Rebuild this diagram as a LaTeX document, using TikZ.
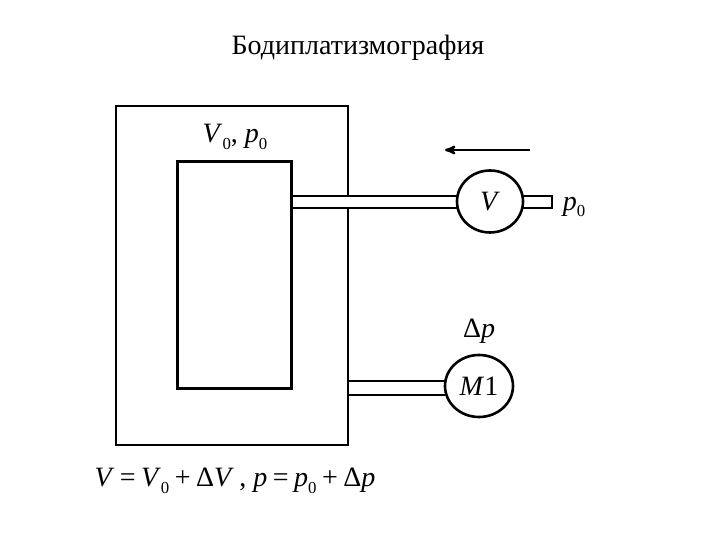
\documentclass[tikz,border=0pt]{standalone}
\usepackage{fontspec}
\setmainfont{Liberation Serif}
\usetikzlibrary{arrows,shapes.geometric}
\newcommand{\vzero}{\textit{V}\raisebox{-0.5ex}{\scalebox{0.6}{0}}}
\newcommand{\pzero}{\textit{p}\raisebox{-0.5ex}{\scalebox{0.6}{0}}}
\newcommand{\opgap}{\hspace{5.5pt}}
\begin{document}
\begin{tikzpicture}[x=1pt,y=1pt,>=stealth',line width=2pt,
    box/.style={draw=black,line width=#1,inner sep=0pt,outer sep=0pt},
    meter/.style={draw=black,ellipse,line width=2.6pt,minimum width=66pt,minimum height=62pt,inner sep=0pt,outer sep=0pt,font=\fontsize{28}{32}\selectfont},
    label/.style={inner sep=0pt,font=\fontsize{28}{32}\selectfont}]
  \useasboundingbox (0,0) rectangle (720,540);

  \node[label] (title) at (358,492) {Бодиплатизмография};

  \node[box=1.8pt,minimum width=232pt,minimum height=339pt] (chamber) at (232,264.5) {};
  \node[box=3pt,minimum width=114pt,minimum height=227pt] (patient) at (234.5,264.5) {};
  \node[meter] (vmeter) at (490,338.5) {\textit{V}};
  \node[meter,minimum width=68pt] (mmeter) at (479,154) {\textit{M}1};

  \node[label] (state) at (235,403) {\vzero, \pzero};
  \node[label] (ambient) at (574,333) {\pzero};
  \node[label] (dp) at (479,209) {Δ\textit{p}};
  \node[label] (relation) at (235,59) {\textit{V}\opgap=\opgap\vzero\opgap+\opgap Δ\textit{V}\opgap, \textit{p}\opgap=\opgap\pzero\opgap+\opgap Δ\textit{p}};

  % air flow direction
  \coordinate (flowstart) at (530,390);
  \coordinate (flowend) at (445,390);
  \draw[->,line width=2.4pt] (flowstart) -- (flowend);

  % tube through the chamber wall
  \coordinate (gaptop) at (chamber.east |- 0,344);
  \coordinate (gapbot) at (chamber.east |- 0,332);
  \draw[draw=white,line width=3pt,shorten >=1.2pt,shorten <=1.2pt] (gaptop) -- (gapbot);
  \draw (gaptop -| vmeter.west) -- (gaptop -| patient.east);
  \draw (gapbot -| vmeter.west) -- (gapbot -| patient.east);

  % open end behind the meter
  \coordinate (endtop) at (552,344);
  \coordinate (endbot) at (552,332);
  \draw (endtop -| vmeter.east) -- (endtop) -- (endbot) -- (endbot -| vmeter.east);

  % tube to the manometer
  \coordinate (tubetop) at (mmeter.west |- 0,159);
  \coordinate (tubebot) at (mmeter.west |- 0,145);
  \draw (tubetop) -- (tubetop -| chamber.east);
  \draw (tubebot) -- (tubebot -| chamber.east);
\end{tikzpicture}
\end{document}
